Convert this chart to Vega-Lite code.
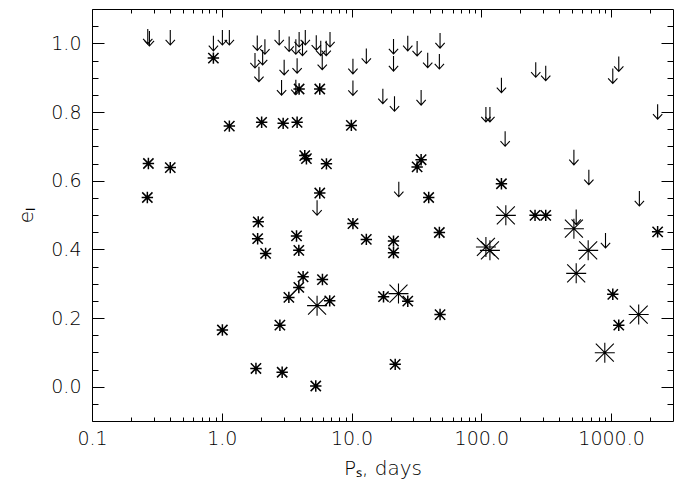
{
  "$schema": "https://vega.github.io/schema/vega-lite/v6.json",
  "width": 581,
  "height": 412,
  "autosize": "none",
  "padding": {"left": 92, "top": 9, "right": 12, "bottom": 69},
  "background": "white",
  "config": {
    "view": {"stroke": "black", "strokeWidth": 1},
    "axis": {
      "domain": false,
      "grid": false,
      "tickColor": "black",
      "tickWidth": 1,
      "labelFont": "DejaVu Sans",
      "labelFontSize": 19,
      "labelFontWeight": 200,
      "labelColor": "black",
      "labelFlush": false,
      "labelOverlap": false,
      "titleFont": "DejaVu Sans",
      "titleFontSize": 20,
      "titleFontWeight": 200,
      "titleColor": "black"
    }
  },
  "data": {
    "values": [
      {"P": 0.272, "e": 0.650, "t": "s"},
      {"P": 0.267, "e": 0.551, "t": "s"},
      {"P": 0.401, "e": 0.638, "t": "s"},
      {"P": 0.862, "e": 0.957, "t": "s"},
      {"P": 1.144, "e": 0.759, "t": "s"},
      {"P": 1.011, "e": 0.165, "t": "s"},
      {"P": 1.910, "e": 0.480, "t": "s"},
      {"P": 1.890, "e": 0.431, "t": "s"},
      {"P": 2.177, "e": 0.388, "t": "s"},
      {"P": 1.834, "e": 0.053, "t": "s"},
      {"P": 3.767, "e": 0.439, "t": "s"},
      {"P": 3.924, "e": 0.397, "t": "s"},
      {"P": 4.234, "e": 0.320, "t": "s"},
      {"P": 3.924, "e": 0.289, "t": "s"},
      {"P": 3.288, "e": 0.260, "t": "s"},
      {"P": 2.804, "e": 0.179, "t": "s"},
      {"P": 2.920, "e": 0.042, "t": "s"},
      {"P": 5.967, "e": 0.312, "t": "s"},
      {"P": 6.788, "e": 0.250, "t": "s"},
      {"P": 5.301, "e": 0.002, "t": "s"},
      {"P": 2.029, "e": 0.770, "t": "s"},
      {"P": 2.972, "e": 0.767, "t": "s"},
      {"P": 3.807, "e": 0.770, "t": "s"},
      {"P": 3.945, "e": 0.867, "t": "s"},
      {"P": 5.689, "e": 0.867, "t": "s"},
      {"P": 4.36, "e": 0.673, "t": "s"},
      {"P": 4.49, "e": 0.664, "t": "s"},
      {"P": 6.404, "e": 0.649, "t": "s"},
      {"P": 5.689, "e": 0.564, "t": "s"},
      {"P": 9.965, "e": 0.761, "t": "s"},
      {"P": 10.25, "e": 0.475, "t": "s"},
      {"P": 13.0, "e": 0.429, "t": "s"},
      {"P": 21.06, "e": 0.424, "t": "s"},
      {"P": 21.06, "e": 0.390, "t": "s"},
      {"P": 47.51, "e": 0.449, "t": "s"},
      {"P": 17.64, "e": 0.262, "t": "s"},
      {"P": 27.12, "e": 0.249, "t": "s"},
      {"P": 48.09, "e": 0.210, "t": "s"},
      {"P": 21.70, "e": 0.065, "t": "s"},
      {"P": 34.37, "e": 0.661, "t": "s"},
      {"P": 32.02, "e": 0.640, "t": "s"},
      {"P": 39.32, "e": 0.551, "t": "s"},
      {"P": 142.9, "e": 0.591, "t": "s"},
      {"P": 259.4, "e": 0.499, "t": "s"},
      {"P": 313.6, "e": 0.499, "t": "s"},
      {"P": 2284, "e": 0.451, "t": "s"},
      {"P": 1030.6, "e": 0.269, "t": "s"},
      {"P": 1146, "e": 0.179, "t": "s"},
      {"P": 5.425, "e": 0.236, "t": "L"},
      {"P": 23.0, "e": 0.271, "t": "L"},
      {"P": 108.5, "e": 0.407, "t": "L"},
      {"P": 116.5, "e": 0.397, "t": "L"},
      {"P": 154.5, "e": 0.499, "t": "L"},
      {"P": 517, "e": 0.460, "t": "L"},
      {"P": 666, "e": 0.397, "t": "L"},
      {"P": 538.5, "e": 0.330, "t": "L"},
      {"P": 1632, "e": 0.210, "t": "L"},
      {"P": 894.5, "e": 0.099, "t": "L"},
      {"P": 0.269, "e": 1.020, "t": "a"},
      {"P": 0.277, "e": 1.014, "t": "a"},
      {"P": 0.401, "e": 1.017, "t": "a"},
      {"P": 0.862, "e": 1.000, "t": "a"},
      {"P": 1.011, "e": 1.017, "t": "a"},
      {"P": 1.144, "e": 1.017, "t": "a"},
      {"P": 1.877, "e": 1.001, "t": "a"},
      {"P": 2.150, "e": 0.990, "t": "a"},
      {"P": 1.803, "e": 0.950, "t": "a"},
      {"P": 2.065, "e": 0.959, "t": "a"},
      {"P": 1.934, "e": 0.910, "t": "a"},
      {"P": 2.770, "e": 1.017, "t": "a"},
      {"P": 3.305, "e": 0.998, "t": "a"},
      {"P": 3.722, "e": 0.990, "t": "a"},
      {"P": 3.945, "e": 1.011, "t": "a"},
      {"P": 4.189, "e": 0.986, "t": "a"},
      {"P": 4.402, "e": 1.017, "t": "a"},
      {"P": 5.348, "e": 1.002, "t": "a"},
      {"P": 5.791, "e": 0.986, "t": "a"},
      {"P": 6.381, "e": 0.986, "t": "a"},
      {"P": 6.825, "e": 1.011, "t": "a"},
      {"P": 5.946, "e": 0.945, "t": "a"},
      {"P": 3.025, "e": 0.930, "t": "a"},
      {"P": 3.807, "e": 0.935, "t": "a"},
      {"P": 2.889, "e": 0.871, "t": "a"},
      {"P": 3.722, "e": 0.872, "t": "a"},
      {"P": 5.425, "e": 0.521, "t": "a"},
      {"P": 10.25, "e": 0.933, "t": "a"},
      {"P": 13.0, "e": 0.963, "t": "a"},
      {"P": 10.25, "e": 0.870, "t": "a"},
      {"P": 21.06, "e": 0.991, "t": "a"},
      {"P": 21.06, "e": 0.941, "t": "a"},
      {"P": 27.12, "e": 1.000, "t": "a"},
      {"P": 32.02, "e": 0.985, "t": "a"},
      {"P": 48.09, "e": 1.008, "t": "a"},
      {"P": 38.63, "e": 0.951, "t": "a"},
      {"P": 47.51, "e": 0.947, "t": "a"},
      {"P": 17.43, "e": 0.846, "t": "a"},
      {"P": 21.43, "e": 0.824, "t": "a"},
      {"P": 34.37, "e": 0.842, "t": "a"},
      {"P": 23.13, "e": 0.575, "t": "a"},
      {"P": 108.5, "e": 0.793, "t": "a"},
      {"P": 116.5, "e": 0.793, "t": "a"},
      {"P": 142.9, "e": 0.878, "t": "a"},
      {"P": 152.6, "e": 0.722, "t": "a"},
      {"P": 262.7, "e": 0.923, "t": "a"},
      {"P": 313.6, "e": 0.913, "t": "a"},
      {"P": 1146, "e": 0.940, "t": "a"},
      {"P": 1030.6, "e": 0.905, "t": "a"},
      {"P": 2284, "e": 0.801, "t": "a"},
      {"P": 517, "e": 0.668, "t": "a"},
      {"P": 674, "e": 0.610, "t": "a"},
      {"P": 1652, "e": 0.548, "t": "a"},
      {"P": 538.5, "e": 0.494, "t": "a"},
      {"P": 905.7, "e": 0.426, "t": "a"}
    ]
  },
  "resolve": {"axis": {"x": "independent", "y": "independent"}},
  "layer": [
    {
      "transform": [{"filter": "datum.t === 's'"}],
      "mark": {"type": "point", "shape": "M-1,0L1,0M0,-1L0,1M-0.9,-0.9L0.9,0.9M-0.9,0.9L0.9,-0.9", "size": 130, "filled": false, "stroke": "black", "strokeWidth": 1.5, "opacity": 1},
      "encoding": {
        "x": {"field": "P", "type": "quantitative", "scale": {"type": "log", "domain": [0.1, 3000], "nice": false},
          "axis": {"orient": "bottom", "values": [0.1, 1, 10, 100, 1000], "format": ".1f", "offset": -8, "tickSize": 8, "labelPadding": 8, "title": "Pₛ, days", "titlePadding": 10}},
        "y": {"field": "e", "type": "quantitative", "scale": {"domain": [-0.1, 1.1], "nice": false, "zero": false},
          "axis": {"orient": "left", "values": [0, 0.2, 0.4, 0.6, 0.8, 1], "format": ".1f", "offset": -12, "tickSize": 12, "labelPadding": 11, "title": "eₗ", "titlePadding": 14}}
      }
    },
    {
      "transform": [{"filter": "datum.t === 's'"}],
      "mark": {"type": "point", "shape": "circle", "size": 12, "filled": true, "color": "black", "opacity": 1},
      "encoding": {
        "x": {"field": "P", "type": "quantitative",
          "axis": {"orient": "bottom", "values": [0.2, 0.3, 0.4, 0.5, 0.6, 0.7, 0.8, 0.9, 2, 3, 4, 5, 6, 7, 8, 9, 20, 30, 40, 50, 60, 70, 80, 90, 200, 300, 400, 500, 600, 700, 800, 900, 2000], "offset": -4, "tickSize": 4, "labels": false, "title": null}},
        "y": {"field": "e", "type": "quantitative",
          "axis": {"orient": "left", "values": [-0.05, 0.05, 0.1, 0.15, 0.25, 0.3, 0.35, 0.45, 0.5, 0.55, 0.65, 0.7, 0.75, 0.85, 0.9, 0.95, 1.05], "offset": -6, "tickSize": 6, "labels": false, "title": null}}
      }
    },
    {
      "transform": [{"filter": "datum.t === 'L'"}],
      "mark": {"type": "point", "shape": "M-1,0L1,0M0,-1L0,1M-0.9,-0.9L0.9,0.9M-0.9,0.9L0.9,-0.9", "size": 400, "filled": false, "stroke": "black", "strokeWidth": 1.1, "opacity": 1},
      "encoding": {
        "x": {"field": "P", "type": "quantitative",
          "axis": {"orient": "top", "values": [0.1, 1, 10, 100, 1000], "offset": -8, "tickSize": 8, "labels": false, "title": null}},
        "y": {"field": "e", "type": "quantitative",
          "axis": {"orient": "right", "values": [0, 0.2, 0.4, 0.6, 0.8, 1], "offset": -12, "tickSize": 12, "labels": false, "title": null}}
      }
    },
    {
      "transform": [{"filter": "datum.t === 'a'"}],
      "mark": {"type": "point", "shape": "M0,-1L0,1M-0.62,0.32L0,1L0.62,0.32", "size": 225, "filled": false, "stroke": "black", "strokeWidth": 1.1, "opacity": 1},
      "encoding": {
        "x": {"field": "P", "type": "quantitative",
          "axis": {"orient": "top", "values": [0.2, 0.3, 0.4, 0.5, 0.6, 0.7, 0.8, 0.9, 2, 3, 4, 5, 6, 7, 8, 9, 20, 30, 40, 50, 60, 70, 80, 90, 200, 300, 400, 500, 600, 700, 800, 900, 2000], "offset": -4, "tickSize": 4, "labels": false, "title": null}},
        "y": {"field": "e", "type": "quantitative",
          "axis": {"orient": "right", "values": [-0.05, 0.05, 0.1, 0.15, 0.25, 0.3, 0.35, 0.45, 0.5, 0.55, 0.65, 0.7, 0.75, 0.85, 0.9, 0.95, 1.05], "offset": -6, "tickSize": 6, "labels": false, "title": null}}
      }
    }
  ]
}
